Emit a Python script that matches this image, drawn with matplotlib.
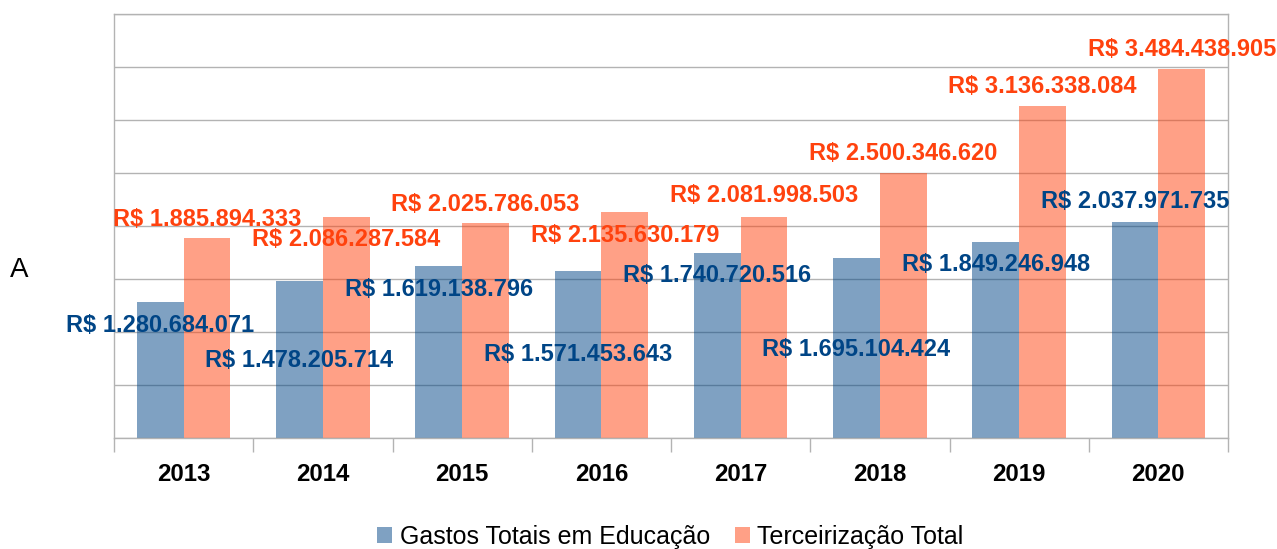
import matplotlib
matplotlib.use("Agg")
import matplotlib.pyplot as plt
from matplotlib.patches import Patch
import numpy as np

plt.rcParams['font.family'] = ['Liberation Sans', 'DejaVu Sans']

years = ["2013", "2014", "2015", "2016", "2017", "2018", "2019", "2020"]
gastos_educacao = [1280684071, 1478205714, 1619138796, 1571453643,
                   1740720516, 1695104424, 1849246948, 2037971735]
terceirizacao = [1885894333, 2086287584, 2025786053, 2135630179,
                 2081998503, 2500346620, 3136338084, 3484438905]
series_names = ["Gastos Totais em Educação", "Terceirização Total"]

# label offsets in pixels (style only)
off_edu = [-23, -79, -23, -83, -22, -91, -23, 20]
off_ter = [19, -23, 19, -24, 22, 19, 19, 19]

blue = "#004586"
orange = "#ff420e"

fig = plt.figure(figsize=(12.77, 5.49), dpi=100)
ax = fig.add_axes([114/1277, 1 - 438/549, (1228-114)/1277, (438-14)/549])

x = np.arange(len(years))
w = 0.335
ax.bar(x - w/2, gastos_educacao, w, color=blue, alpha=0.5, zorder=2, linewidth=0)
ax.bar(x + w/2, terceirizacao, w, color=orange, alpha=0.5, zorder=2, linewidth=0)

ax.set_xlim(-0.5, len(years) - 0.5)
ax.set_ylim(0, 4_000_000_000)
ax.set_yticks(np.arange(0, 4_000_000_001, 500_000_000))
ax.yaxis.grid(True, color="#b3b3b3", linewidth=1, zorder=0)
ax.set_axisbelow(True)
ax.tick_params(axis='y', length=0, labelleft=False)

ax.set_xticks(np.arange(-0.5, len(years), 1.0))
ax.set_xticklabels([])
ax.tick_params(axis='x', which='major', length=10, color="#b3b3b3", width=1)
ax.set_xticks(x, minor=True)
ax.set_xticklabels(years, minor=True, fontsize=17.3, fontweight='bold')
ax.tick_params(axis='x', which='minor', length=0, pad=18)

for s in ax.spines.values():
    s.set_color("#b3b3b3")
    s.set_linewidth(1)

def fmt(v):
    return "R$ " + f"{v:,}".replace(",", ".")

for i in range(len(years)):
    ax.annotate(fmt(gastos_educacao[i]), xy=(x[i] - w/2, gastos_educacao[i]),
                xytext=(0, off_edu[i]), textcoords='offset pixels',
                ha='center', va='center', color=blue, fontsize=17,
                fontweight='bold', zorder=5, annotation_clip=False)
    ax.annotate(fmt(terceirizacao[i]), xy=(x[i] + w/2, terceirizacao[i]),
                xytext=(0, off_ter[i]), textcoords='offset pixels',
                ha='center', va='center', color=orange, fontsize=17,
                fontweight='bold', zorder=5, annotation_clip=False)

fig.text(19/1277, 1 - 270/549, "A", fontsize=20, ha='center', va='center')

handles = [Patch(facecolor=blue, alpha=0.5, edgecolor='none'),
           Patch(facecolor=orange, alpha=0.5, edgecolor='none')]
fig.legend(handles, series_names, loc='center', bbox_to_anchor=(0.525, 1 - 537/549),
           ncol=2, frameon=False, fontsize=18, handlelength=0.6, handleheight=0.6,
           handletextpad=0.3, columnspacing=1.0)

fig.savefig("out.png", dpi=100)
